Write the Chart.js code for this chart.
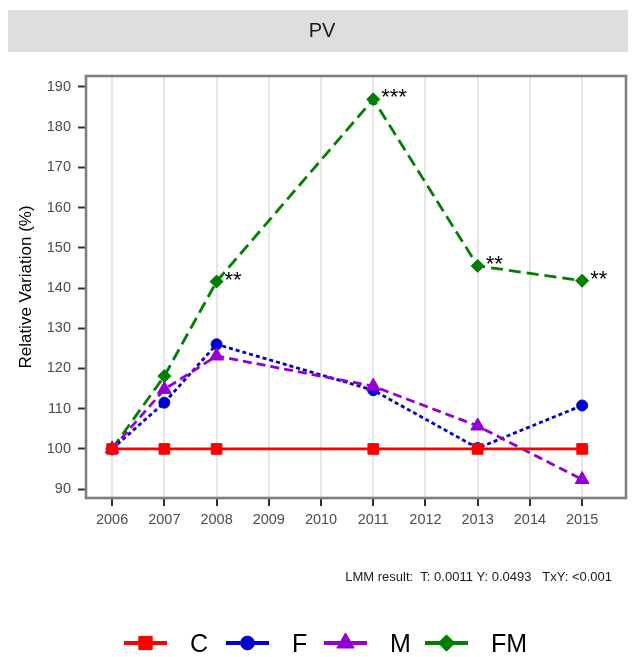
<!DOCTYPE html>
<html>
<head>
<meta charset="utf-8">
<script src="https://cdn.jsdelivr.net/npm/chart.js@4.4.0/dist/chart.umd.min.js"></script>
<style>
  html, body { margin: 0; padding: 0; background: #fff; }
  #wrap { width: 637px; height: 657px; position: relative; }
</style>
</head>
<body>
<div id="wrap"><canvas id="pvChart"></canvas></div>
<script>
var years = [2006, 2007, 2008, 2011, 2013, 2015];
var tickYears = [2006, 2007, 2008, 2009, 2010, 2011, 2012, 2013, 2014, 2015];
var seriesNames = ["C", "F", "M", "FM"];
var cValues = [100, 100, 100, 100, 100, 100];
var fValues = [100, 111.5, 126.0, 114.6, 100.2, 110.8];
var mValues = [100, 114.8, 123.1, 115.6, 105.7, 92.4];
var fmValues = [100, 118.1, 141.6, 186.9, 145.5, 141.8];
var fmStars = ["", "", "**", "***", "**", "**"];
var stripTitle = "PV";
var yTitle = "Relative Variation (%)";
var lmmText = "LMM result:  T: 0.0011 Y: 0.0493   TxY: <0.001";

var FONT = "'Liberation Sans', Arial, sans-serif";

function toPoints(vals) {
  return vals.map(function (v, i) {
    return { x: years[i], y: v };
  });
}

var datasets = [
  { label: seriesNames[0], data: toPoints(cValues), borderColor: "#ff0000", backgroundColor: "#ff0000",
    borderDash: [], pointStyle: "rect", pointRadius: 7.5, order: 0 },
  { label: seriesNames[1], data: toPoints(fValues), borderColor: "#0000cd", backgroundColor: "#0000cd",
    borderDash: [4, 3], pointStyle: "circle", pointRadius: 5.5, order: 2 },
  { label: seriesNames[2], data: toPoints(mValues), borderColor: "#9400d3", backgroundColor: "#9400d3",
    borderDash: [9, 5], pointStyle: "triangle", pointRadius: 8, order: 1 },
  { label: seriesNames[3], data: toPoints(fmValues), borderColor: "#007f00", backgroundColor: "#007f00",
    borderDash: [12, 6], pointStyle: "rectRot", pointRadius: 6.5, order: 3 }
];
datasets.forEach(function (d) {
  d.borderWidth = 2.8;
  d.pointBorderWidth = 1;
  d.pointBorderColor = d.borderColor;
  d.pointBackgroundColor = d.backgroundColor;
  d.tension = 0;
  d.fill = false;
});

var decorPlugin = {
  id: "decor",
  beforeDraw: function (chart) {
    var ctx = chart.ctx;
    ctx.save();
    ctx.fillStyle = "#dedede";
    ctx.fillRect(8, 10, 620, 42);
    ctx.fillStyle = "#1a1a1a";
    ctx.font = "20px " + FONT;
    ctx.textAlign = "center";
    ctx.textBaseline = "middle";
    ctx.fillText(stripTitle, 322, 31);
    ctx.restore();
  },
  afterDraw: function (chart) {
    var ctx = chart.ctx;
    var area = chart.chartArea;
    var xs = chart.scales.x, ys = chart.scales.y;
    ctx.save();
    // panel border
    ctx.strokeStyle = "#7f7f7f";
    ctx.lineWidth = 2.6;
    ctx.strokeRect(area.left, area.top, area.right - area.left, area.bottom - area.top);

    // significance stars on FM
    ctx.fillStyle = "#000";
    ctx.font = "22px " + FONT;
    ctx.textAlign = "left";
    ctx.textBaseline = "alphabetic";
    fmStars.forEach(function (s, i) {
      if (!s) return;
      var px = xs.getPixelForValue(years[i]);
      var py = ys.getPixelForValue(fmValues[i]);
      ctx.fillText(s, px + 8, py + 5);
    });

    // LMM text
    ctx.fillStyle = "#1a1a1a";
    ctx.font = "13px " + FONT;
    ctx.textAlign = "right";
    ctx.textBaseline = "middle";
    ctx.fillText(lmmText, 612, 577);

    // legend
    var legendX = [124, 226, 324, 425];
    var legendY = 643;
    chart.data.datasets.forEach(function (d, i) {
      var x0 = legendX[i];
      ctx.strokeStyle = d.borderColor;
      ctx.lineWidth = 3.8;
      ctx.setLineDash([]);
      ctx.beginPath();
      ctx.moveTo(x0, legendY);
      ctx.lineTo(x0 + 43, legendY);
      ctx.stroke();
      ctx.fillStyle = d.backgroundColor;
      ctx.lineWidth = 1;
      Chart.helpers.drawPoint(ctx, { pointStyle: d.pointStyle, radius: d.pointRadius * 1.25, borderWidth: 1 },
        x0 + 21.5, legendY);
      ctx.fill();
      ctx.fillStyle = "#000";
      ctx.font = "25px " + FONT;
      ctx.textAlign = "left";
      ctx.textBaseline = "middle";
      ctx.fillText(d.label, x0 + 66, legendY + 2);
    });
    ctx.restore();
  }
};

var ctx = document.getElementById("pvChart").getContext("2d");
var pvChart = new Chart(ctx, {
  type: "line",
  data: { datasets: datasets },
  options: {
    responsive: true,
    maintainAspectRatio: false,
    animation: false,
    layout: { padding: { top: 76, right: 11, bottom: 119, left: 0 } },
    plugins: { legend: { display: false }, tooltip: { enabled: false } },
    scales: {
      x: {
        type: "linear",
        min: 2005.5,
        max: 2015.84,
        afterFit: function (scale) { scale.height = 40; },
        afterBuildTicks: function (scale) {
          scale.ticks = tickYears.map(function (v) { return { value: v }; });
        },
        ticks: {
          callback: function (v) { return String(v); },
          color: "#4d4d4d",
          font: { family: FONT, size: 14.5 },
          padding: 5,
          maxRotation: 0,
          autoSkip: false
        },
        grid: { color: "#e6e6e6", lineWidth: 2, tickColor: "#333", tickWidth: 2, tickLength: 8 },
        border: { display: false }
      },
      y: {
        min: 87.8,
        max: 192.7,
        afterFit: function (scale) { scale.width = 86; },
        ticks: {
          stepSize: 10,
          includeBounds: false,
          color: "#4d4d4d",
          font: { family: FONT, size: 14.5 },
          padding: 7
        },
        grid: { drawOnChartArea: false, tickColor: "#333", tickWidth: 2, tickLength: 8 },
        border: { display: false },
        title: {
          display: true,
          text: yTitle,
          color: "#000",
          font: { family: FONT, size: 17 },
          padding: { top: 16, bottom: 0 }
        }
      }
    }
  },
  plugins: [decorPlugin]
});
</script>
</body>
</html>
